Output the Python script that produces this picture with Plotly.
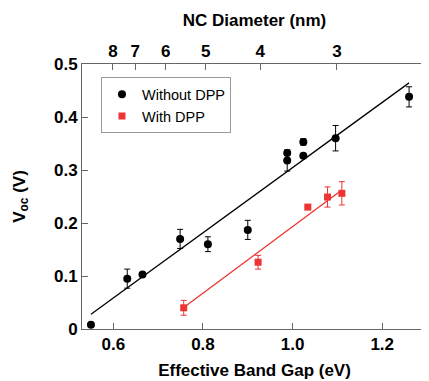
import plotly.graph_objects as go
import numpy as np

# Without DPP
gap_wo = [0.550, 0.631, 0.665, 0.749, 0.811, 0.900, 0.988, 0.988, 1.024, 1.024, 1.096, 1.260]
voc_wo = [0.008, 0.095, 0.103, 0.170, 0.160, 0.187, 0.332, 0.318, 0.353, 0.327, 0.360, 0.438]
err_wo = [0.000, 0.018, 0.000, 0.018, 0.014, 0.018, 0.000, 0.020, 0.006, 0.000, 0.024, 0.019]

# With DPP
gap_w = [0.757, 0.923, 1.034, 1.078, 1.110]
voc_w = [0.040, 0.126, 0.230, 0.249, 0.256]
err_w = [0.014, 0.013, 0.000, 0.019, 0.022]

# linear fits (slope, intercept)
fit_wo = (0.615, -0.3105)
fit_w = (0.628, -0.435)

# top axis: NC diameter labels and their band-gap positions
nc_diam = ["8", "7", "6", "5", "4", "3"]
nc_gap = [0.599, 0.649, 0.717, 0.806, 0.928, 1.099]

# tick labels
x_ticks = [0.6, 0.8, 1.0, 1.2]
x_labels = ["0.6", "0.8", "1.0", "1.2"]
y_ticks = [0, 0.1, 0.2, 0.3, 0.4, 0.5]
y_labels = ["0", "0.1", "0.2", "0.3", "0.4", "0.5"]

FONT = "Arial, 'Liberation Sans', sans-serif"
AX = "#666666"
RED = "#ee3333"

fig = go.Figure()

xs = np.array([min(gap_wo), max(gap_wo)])
fig.add_trace(go.Scatter(x=xs, y=fit_wo[0] * xs + fit_wo[1], mode="lines",
                         line=dict(color="black", width=1.3), showlegend=False, hoverinfo="skip"))
xs2 = np.array([min(gap_w), max(gap_w)])
fig.add_trace(go.Scatter(x=xs2, y=fit_w[0] * xs2 + fit_w[1], mode="lines",
                         line=dict(color=RED, width=1.3), showlegend=False, hoverinfo="skip"))

fig.add_trace(go.Scatter(x=gap_wo, y=voc_wo, mode="markers", name="Without DPP",
                         marker=dict(color="black", size=8, symbol="circle"),
                         error_y=dict(type="data", array=err_wo, visible=True,
                                      color="black", thickness=1, width=3)))
fig.add_trace(go.Scatter(x=gap_w, y=voc_w, mode="markers", name="With DPP",
                         marker=dict(color=RED, size=7, symbol="square"),
                         error_y=dict(type="data", array=err_w, visible=True,
                                      color=RED, thickness=1, width=3)))
# trace to enable top axis
fig.add_trace(go.Scatter(x=nc_gap, y=[-1] * len(nc_gap), xaxis="x2", mode="markers",
                         marker=dict(opacity=0), showlegend=False, hoverinfo="skip"))

tf = dict(size=17, family=FONT, color="black", weight="bold")
fig.update_layout(
    width=429, height=381,
    margin=dict(l=74, r=10, t=56, b=60),
    plot_bgcolor="white", paper_bgcolor="white",
    font=dict(family=FONT, color="black"),
    showlegend=True,
    legend=dict(x=0.055, y=0.95, xanchor="left", yanchor="top",
                bgcolor="white", bordercolor="#999999", borderwidth=1,
                font=dict(size=14.5, family=FONT, color="black"), itemwidth=30,
                tracegroupgap=0),
    xaxis=dict(range=[0.53, 1.30], tickvals=x_ticks,
               ticktext=["<b>%s</b>" % t for t in x_labels],
               ticks="inside", ticklen=6, tickcolor=AX, showgrid=False, zeroline=False,
               showline=True, linecolor=AX, linewidth=1, mirror=True, automargin=False,
               tickfont=tf,
               title=dict(text="<b>Effective Band Gap (eV)</b>", font=tf, standoff=10)),
    xaxis2=dict(range=[0.53, 1.30], overlaying="x", side="top",
                tickvals=nc_gap, ticktext=["<b>%s</b>" % t for t in nc_diam],
                ticks="inside", ticklen=6, tickcolor=AX, showgrid=False, zeroline=False,
                showline=False, automargin=False,
                tickfont=tf, ticklabelstandoff=3,
                title=dict(text="<b>NC Diameter (nm)</b>", font=tf, standoff=10)),
    yaxis=dict(range=[0, 0.5], tickvals=y_ticks,
               ticktext=["<b>%s</b>" % t for t in y_labels],
               ticks="inside", ticklen=6, tickcolor=AX, showgrid=False, zeroline=False,
               showline=True, linecolor=AX, linewidth=1, mirror=True, automargin=False,
               tickfont=tf,
               title=dict(text="<b>V<sub>oc</sub> (V)</b>", font=tf, standoff=24)),
)

fig.write_html("out.html")
